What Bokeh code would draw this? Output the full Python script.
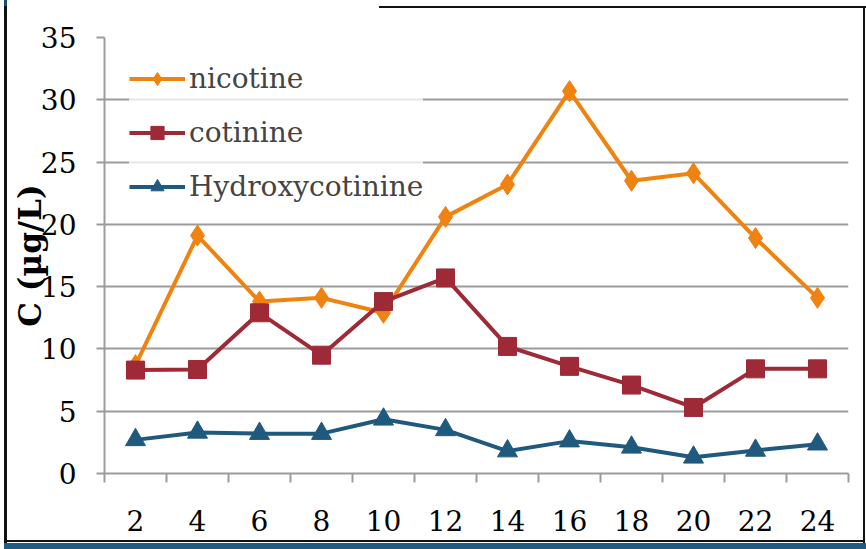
from bokeh.plotting import figure
from bokeh.models import (FixedTicker, Legend, LegendItem, ColumnDataSource, Range1d)
from bokeh.embed import file_html
from bokeh.resources import INLINE

hours = [2, 4, 6, 8, 10, 12, 14, 16, 18, 20, 22, 24]
nicotine = [8.7, 19.1, 13.8, 14.1, 12.9, 20.6, 23.2, 30.7, 23.5, 24.1, 18.9, 14.1]
cotinine = [8.3, 8.35, 12.9, 9.5, 13.8, 15.7, 10.2, 8.6, 7.1, 5.3, 8.4, 8.4]
hydroxycotinine = [2.7, 3.3, 3.2, 3.2, 4.35, 3.5, 1.8, 2.6, 2.1, 1.3, 1.85, 2.35]
y_ticks = [0, 5, 10, 15, 20, 25, 30, 35]
x_boundaries = [1, 3, 5, 7, 9, 11, 13, 15, 17, 19, 21, 23, 25]
y_label = "C (µg/L)"

FONT = "DejaVu Serif"
GRAY = "#9c9c9c"

p = figure(width=866, height=549, output_backend="svg", toolbar_location=None,
           x_range=Range1d(1, 25), y_range=Range1d(0, 35),
           min_border_left=104, min_border_right=18, min_border_top=37,
           min_border_bottom=76)
p.border_fill_color = None
p.background_fill_color = "white"
p.outline_line_color = None

# decorative outer frame & bottom bar painted as CSS background of the host
BLK = "#111111"
NAVY = "#1f5a80"
layers = [
    f"linear-gradient({BLK},{BLK}) 379px 6px / 487px 2px no-repeat",   # top line
    f"linear-gradient({BLK},{BLK}) 4px 6px / 3px 537px no-repeat",     # left line
    f"linear-gradient({BLK},{BLK}) 863px 6px / 2px 537px no-repeat",   # right line
    f"linear-gradient({BLK},{BLK}) 4px 540px / 861px 2px no-repeat",   # bottom line
    f"linear-gradient(#1d4d70,#1d4d70) 4px 0px / 3px 8px no-repeat",   # navy stub
    f"linear-gradient({NAVY},{NAVY}) 4px 543px / 862px 6px no-repeat", # bottom bar
]
p.styles = {"background": ", ".join(layers) + ", white"}

p.xgrid.grid_line_color = None
p.ygrid.grid_line_color = GRAY
p.ygrid.grid_line_width = 2
p.ygrid.ticker = FixedTicker(ticks=y_ticks)

p.yaxis.ticker = FixedTicker(ticks=y_ticks)
p.yaxis.axis_line_color = GRAY
p.yaxis.axis_line_width = 2
p.yaxis.major_tick_line_color = GRAY
p.yaxis.major_tick_line_width = 2
p.yaxis.major_tick_out = 8
p.yaxis.major_tick_in = 0
p.yaxis.minor_tick_line_color = None
p.yaxis.major_label_text_font = FONT
p.yaxis.major_label_text_font_size = "28px"
p.yaxis.major_label_text_color = "black"
p.yaxis.major_label_standoff = 20
p.yaxis.axis_label = y_label
p.yaxis.axis_label_text_font = FONT
p.yaxis.axis_label_text_font_size = "31px"
p.yaxis.axis_label_text_font_style = "bold"
p.yaxis.axis_label_text_color = "black"
p.yaxis.axis_label_standoff = -10

p.xaxis.ticker = FixedTicker(ticks=hours, minor_ticks=x_boundaries)
p.xaxis.axis_line_color = GRAY
p.xaxis.axis_line_width = 2
p.xaxis.major_tick_line_color = None
p.xaxis.minor_tick_line_color = GRAY
p.xaxis.minor_tick_line_width = 2
p.xaxis.minor_tick_out = 9
p.xaxis.minor_tick_in = 0
p.xaxis.major_label_text_font = FONT
p.xaxis.major_label_text_font_size = "28px"
p.xaxis.major_label_text_color = "black"
p.xaxis.major_label_standoff = 27

series = [
    ("nicotine", nicotine, "#F0820F", "diamond", 21),
    ("cotinine", cotinine, "#9E2A38", "square", 18),
    ("Hydroxycotinine", hydroxycotinine, "#1F5A7E", "triangle", 20),
]
items = []
for name, vals, color, marker, size in series:
    src = ColumnDataSource(dict(x=hours, y=vals))
    r1 = p.line("x", "y", source=src, line_color=color, line_width=4)
    r2 = p.scatter("x", "y", source=src, marker=marker, size=size,
                   fill_color=color, line_color=color)
    items.append(LegendItem(label=name, renderers=[r1, r2]))

legend = Legend(items=items, location="top_left", margin=25, padding=0,
                spacing=21, label_height=33, glyph_height=33, glyph_width=56,
                label_text_font=FONT, label_text_font_size="28px",
                label_standoff=4,
                background_fill_color="white", background_fill_alpha=0.75,
                border_line_color=None)
p.add_layout(legend, "center")

open("out.html", "w").write(file_html(p, INLINE))
